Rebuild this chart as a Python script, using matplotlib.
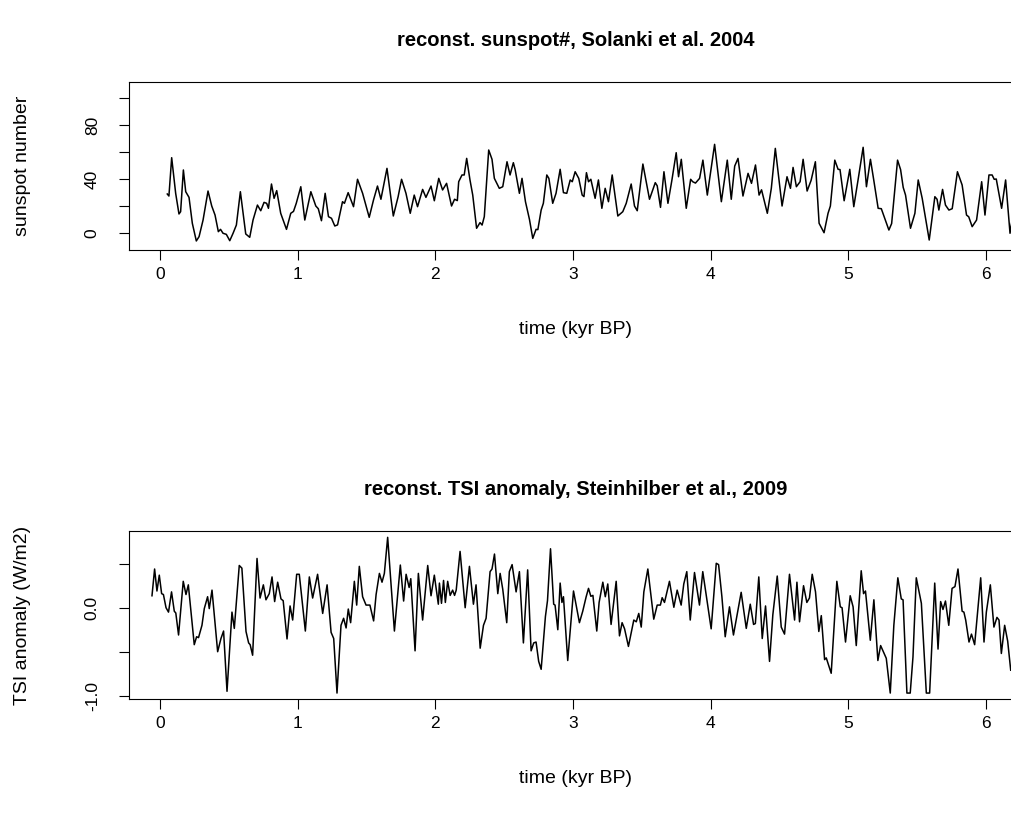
import matplotlib
matplotlib.use("Agg")
import matplotlib.pyplot as plt

plt.rcParams['font.family'] = ['Liberation Sans', 'DejaVu Sans']

# sunspot number reconstruction (Solanki et al. 2004)
ssn_time = [0.053, 0.065, 0.085, 0.114, 0.138, 0.150, 0.170, 0.187, 0.211, 0.235,
            0.264, 0.284, 0.313, 0.349, 0.376, 0.400, 0.424, 0.440, 0.458, 0.482,
            0.507, 0.531, 0.555, 0.584, 0.604, 0.623, 0.652, 0.676, 0.708, 0.732,
            0.756, 0.775, 0.788, 0.810, 0.829, 0.848, 0.877, 0.919, 0.950, 0.970,
            0.990, 1.023, 1.052, 1.096, 1.132, 1.150, 1.173, 1.200, 1.224, 1.246,
            1.270, 1.290, 1.326, 1.340, 1.367, 1.406, 1.435, 1.472, 1.520, 1.551,
            1.580, 1.605, 1.649, 1.695, 1.730, 1.755, 1.787, 1.818, 1.847, 1.871,
            1.908, 1.932, 1.969, 1.993, 2.025, 2.053, 2.082, 2.118, 2.140, 2.160,
            2.170, 2.194, 2.210, 2.228, 2.252, 2.272, 2.300, 2.325, 2.340, 2.356,
            2.388, 2.412, 2.429, 2.465, 2.490, 2.521, 2.543, 2.567, 2.580, 2.611,
            2.630, 2.655, 2.684, 2.708, 2.732, 2.745, 2.769, 2.785, 2.810, 2.825,
            2.853, 2.877, 2.907, 2.931, 2.955, 2.980, 2.995, 3.016, 3.042, 3.067,
            3.080, 3.098, 3.113, 3.130, 3.161, 3.185, 3.210, 3.234, 3.258, 3.285,
            3.326, 3.362, 3.387, 3.423, 3.447, 3.467, 3.508, 3.556, 3.598, 3.612,
            3.636, 3.661, 3.690, 3.719, 3.750, 3.767, 3.787, 3.823, 3.855, 3.870,
            3.890, 3.920, 3.944, 3.976, 4.029, 4.078, 4.121, 4.150, 4.175, 4.199,
            4.235, 4.272, 4.297, 4.326, 4.352, 4.370, 4.412, 4.441, 4.470, 4.519,
            4.555, 4.580, 4.599, 4.623, 4.650, 4.672, 4.701, 4.730, 4.761, 4.788,
            4.824, 4.853, 4.870, 4.902, 4.926, 4.940, 4.970, 5.011, 5.040, 5.071,
            5.108, 5.132, 5.161, 5.185, 5.217, 5.240, 5.295, 5.315, 5.358, 5.380,
            5.399, 5.416, 5.452, 5.484, 5.508, 5.537, 5.588, 5.629, 5.645, 5.658,
            5.685, 5.706, 5.731, 5.755, 5.793, 5.827, 5.859, 5.875, 5.900, 5.932,
            5.969, 5.993, 6.022, 6.045, 6.060, 6.075, 6.114, 6.143, 6.175, 6.190]
ssn_value = [28.9, 27.4, 55.8, 29.4, 14.1, 15.8, 46.7, 30.6, 26.4, 7.2,
             -5.9, -2.7, 9.6, 31.1, 20.0, 13.3, 1.0, 2.7, -0.2, -1.0,
             -5.7, -0.2, 5.9, 30.6, 14.6, -0.7, -3.2, 9.6, 20.7, 16.5,
             22.7, 22.0, 18.3, 36.3, 25.7, 31.4, 14.6, 2.7, 14.6, 16.0,
             22.0, 34.3, 9.6, 30.6, 20.0, 18.0, 9.1, 29.4, 12.1, 10.9,
             5.2, 6.0, 23.2, 22.0, 29.9, 19.5, 39.8, 29.4, 11.6, 24.4,
             34.8, 25.0, 47.9, 12.6, 26.9, 39.8, 29.4, 14.6, 28.1, 19.5,
             32.3, 26.4, 34.8, 23.9, 40.5, 31.9, 36.8, 20.0, 25.0, 24.0,
             38.0, 43.0, 43.0, 55.3, 39.3, 28.1, 3.5, 7.7, 5.9, 12.1,
             61.5, 54.6, 40.5, 33.1, 34.3, 52.8, 43.0, 52.1, 47.0, 29.4,
             40.5, 23.2, 10.1, -4.0, 2.7, 2.5, 17.0, 22.0, 43.0, 40.5,
             22.0, 29.4, 47.2, 29.9, 29.4, 39.3, 38.0, 45.4, 40.5, 28.1,
             27.0, 44.7, 38.0, 39.8, 25.7, 39.3, 18.3, 33.1, 23.2, 43.0,
             12.6, 15.8, 22.0, 36.3, 20.0, 16.5, 51.1, 25.0, 37.3, 35.0,
             19.0, 45.4, 22.0, 39.3, 59.5, 41.7, 54.6, 18.3, 39.8, 38.0,
             37.0, 40.5, 54.0, 28.1, 65.7, 23.2, 54.0, 25.0, 49.6, 55.3,
             27.4, 44.2, 36.8, 50.4, 28.1, 32.0, 14.6, 33.1, 62.7, 20.0,
             41.7, 33.1, 48.6, 34.3, 38.0, 54.6, 31.1, 39.0, 52.8, 7.2,
             0.2, 14.6, 20.0, 54.0, 47.2, 47.0, 23.9, 47.2, 19.5, 39.3,
             63.5, 34.3, 54.6, 39.3, 18.3, 18.0, 2.2, 7.0, 54.0, 47.0,
             33.8, 28.1, 3.5, 14.6, 39.3, 25.7, -5.2, 26.9, 25.0, 17.0,
             32.3, 20.7, 17.0, 18.0, 45.4, 35.6, 13.3, 12.0, 4.7, 9.6,
             38.0, 13.3, 43.0, 43.0, 39.8, 40.0, 18.3, 39.3, -0.2, 9.6]

# TSI anomaly reconstruction (Steinhilber et al. 2009)
tsi_time = [-0.058, -0.039, -0.022, -0.005, 0.012, 0.025, 0.044, 0.062, 0.084, 0.104,
            0.115, 0.135, 0.169, 0.189, 0.206, 0.249, 0.266, 0.280, 0.305, 0.322,
            0.346, 0.358, 0.378, 0.419, 0.443, 0.462, 0.487, 0.523, 0.540, 0.576,
            0.595, 0.625, 0.644, 0.655, 0.673, 0.705, 0.727, 0.751, 0.770, 0.794,
            0.814, 0.833, 0.855, 0.879, 0.895, 0.923, 0.945, 0.964, 0.993, 1.012,
            1.056, 1.085, 1.109, 1.145, 1.182, 1.214, 1.243, 1.262, 1.286, 1.315,
            1.334, 1.352, 1.368, 1.385, 1.412, 1.429, 1.448, 1.472, 1.497, 1.525,
            1.552, 1.570, 1.594, 1.613, 1.630, 1.654, 1.703, 1.746, 1.770, 1.788,
            1.810, 1.822, 1.853, 1.877, 1.908, 1.945, 1.969, 1.993, 2.022, 2.030,
            2.045, 2.060, 2.073, 2.090, 2.108, 2.126, 2.140, 2.152, 2.180, 2.217,
            2.248, 2.277, 2.296, 2.326, 2.350, 2.369, 2.398, 2.412, 2.430, 2.454,
            2.471, 2.490, 2.519, 2.538, 2.558, 2.587, 2.611, 2.640, 2.671, 2.696,
            2.715, 2.732, 2.751, 2.769, 2.800, 2.815, 2.837, 2.860, 2.870, 2.890,
            2.907, 2.920, 2.931, 2.962, 3.004, 3.047, 3.071, 3.096, 3.113, 3.130,
            3.145, 3.173, 3.190, 3.217, 3.235, 3.253, 3.277, 3.314, 3.338, 3.357,
            3.375, 3.403, 3.442, 3.460, 3.478, 3.496, 3.515, 3.544, 3.587, 3.612,
            3.635, 3.648, 3.665, 3.701, 3.733, 3.757, 3.786, 3.805, 3.827, 3.852,
            3.883, 3.919, 3.943, 3.961, 4.004, 4.041, 4.058, 4.082, 4.106, 4.137,
            4.166, 4.190, 4.222, 4.259, 4.288, 4.312, 4.325, 4.350, 4.375, 4.399,
            4.428, 4.452, 4.484, 4.513, 4.537, 4.573, 4.610, 4.627, 4.646, 4.675,
            4.699, 4.718, 4.738, 4.762, 4.786, 4.804, 4.828, 4.840, 4.876, 4.917,
            4.942, 4.955, 4.980, 5.014, 5.035, 5.058, 5.094, 5.111, 5.125, 5.160,
            5.186, 5.215, 5.235, 5.255, 5.276, 5.305, 5.331, 5.360, 5.385, 5.398,
            5.426, 5.450, 5.470, 5.494, 5.531, 5.567, 5.591, 5.628, 5.652, 5.671,
            5.688, 5.706, 5.730, 5.754, 5.775, 5.797, 5.827, 5.840, 5.853, 5.877,
            5.895, 5.918, 5.962, 5.986, 6.003, 6.032, 6.058, 6.080, 6.095, 6.112,
            6.136, 6.158, 6.180]
tsi_value = [0.136, 0.44, 0.19, 0.37, 0.16, 0.15, 0.0, -0.05, 0.18, -0.04,
             -0.06, -0.31, 0.30, 0.15, 0.26, -0.42, -0.33, -0.34, -0.20, -0.01,
             0.125, -0.01, 0.20, -0.50, -0.35, -0.265, -0.95, -0.05, -0.235, 0.48,
             0.45, -0.27, -0.40, -0.42, -0.54, 0.56, 0.11, 0.26, 0.09, 0.16,
             0.35, 0.07, 0.29, 0.10, 0.08, -0.355, 0.02, -0.14, 0.38, 0.38,
             -0.265, 0.35, 0.11, 0.38, -0.065, 0.26, -0.28, -0.35, -0.97, -0.20,
             -0.12, -0.23, -0.015, -0.17, 0.30, 0.03, 0.47, 0.125, 0.03, 0.03,
             -0.15, 0.15, 0.39, 0.29, 0.39, 0.80, -0.265, 0.485, 0.076, 0.38,
             0.23, 0.33, -0.49, 0.39, -0.14, 0.48, 0.136, 0.37, 0.04, 0.28,
             0.05, 0.31, 0.06, 0.30, 0.14, 0.20, 0.14, 0.20, 0.64, 0.0,
             0.47, 0.04, 0.26, -0.46, -0.20, -0.12, 0.41, 0.44, 0.61, 0.16,
             0.39, 0.21, -0.17, 0.41, 0.49, 0.18, 0.41, -0.40, 0.43, -0.49,
             -0.40, -0.39, -0.61, -0.70, -0.10, 0.08, 0.67, 0.04, 0.03, -0.25,
             0.28, 0.06, 0.125, -0.60, 0.19, -0.17, -0.04, 0.125, 0.22, 0.13,
             0.14, -0.265, 0.06, 0.29, 0.125, 0.27, -0.19, 0.30, -0.32, -0.17,
             -0.24, -0.44, -0.14, -0.16, -0.065, -0.22, 0.18, 0.44, -0.13, 0.03,
             0.03, 0.114, 0.06, 0.30, 0.005, 0.20, 0.03, 0.27, 0.41, -0.14,
             0.40, 0.03, 0.41, 0.22, -0.24, 0.505, 0.49, 0.125, -0.33, 0.01,
             -0.31, -0.10, 0.175, -0.235, 0.04, -0.19, -0.18, 0.35, -0.35, 0.02,
             -0.61, -0.08, 0.36, -0.22, -0.30, 0.38, -0.14, 0.29, -0.16, 0.25,
             0.06, 0.11, 0.38, 0.18, -0.27, -0.09, -0.59, -0.57, -0.745, 0.30,
             0.01, 0.0, -0.39, 0.136, 0.01, -0.43, 0.42, 0.16, 0.19, -0.37,
             0.09, -0.60, -0.43, -0.50, -0.575, -0.97, -0.20, 0.34, 0.10, 0.09,
             -0.97, -0.97, -0.56, 0.34, 0.05, -0.97, -0.97, 0.28, -0.47, 0.07,
             -0.02, 0.076, -0.20, 0.22, 0.24, 0.44, -0.04, -0.05, -0.14, -0.39,
             -0.30, -0.42, 0.34, -0.39, -0.05, 0.26, -0.22, -0.11, -0.14, -0.52,
             -0.20, -0.38, -0.71]

x_ticks = [0, 1, 2, 3, 4, 5, 6]
ssn_ticks = [0, 20, 40, 60, 80, 100]
ssn_ticklabels = ["0", "", "40", "", "80", ""]
tsi_ticks = [-1.0, -0.5, 0.0, 0.5]
tsi_ticklabels = ["-1.0", "", "0.0", ""]

W, H = 1012, 822
fig = plt.figure(figsize=(W / 100, H / 100), dpi=100)

def panel(box, t, v, title, ylabel, ylim, yticks, yticklabels):
    left, top, right, bottom = box
    ax = fig.add_axes([left / W, 1 - bottom / H, (right - left) / W, (bottom - top) / H])
    ax.plot(t, v, color="black", lw=1.1)
    ax.set_xlim(-0.225, 6.262)
    ax.set_ylim(*ylim)
    ax.set_xticks(x_ticks)
    ax.set_yticks(yticks)
    ax.set_yticklabels(yticklabels, rotation=90, va="center")
    ax.tick_params(direction="out", length=7, width=0.8, labelsize=12.5, pad=5)
    ax.tick_params(axis="y", pad=14)
    for s in ax.spines.values():
        s.set_linewidth(0.8)
    ax.set_title(title, fontsize=14.5, fontweight="bold", pad=26)
    ax.set_xlabel("time (kyr BP)", fontsize=14, labelpad=28)
    ax.set_ylabel(ylabel, fontsize=14, labelpad=39)
    return ax

panel((129, 82, 1022, 250), ssn_time, ssn_value,
      "reconst. sunspot#, Solanki et al. 2004", "sunspot number",
      (-12.6, 111.9), ssn_ticks, ssn_ticklabels)
panel((129, 531, 1022, 699), tsi_time, tsi_value,
      "reconst. TSI anomaly, Steinhilber et al., 2009", "TSI anomaly (W/m2)",
      (-1.0375, 0.872), tsi_ticks, tsi_ticklabels)

fig.savefig("out.png", dpi=100)
